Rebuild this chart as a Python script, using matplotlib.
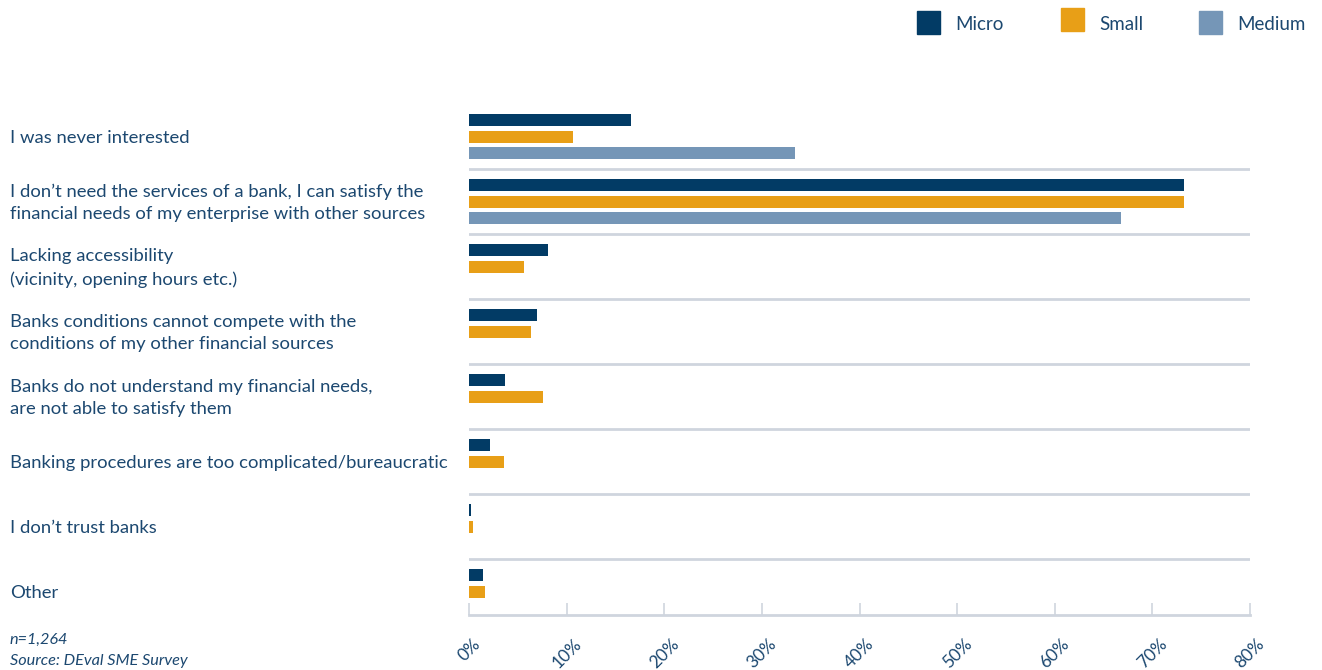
import numpy as np
import matplotlib.pyplot as plt
from matplotlib.patches import Rectangle
from matplotlib.transforms import blended_transform_factory

# --- Data (percent of respondents) ---
categories = [
    "I was never interested",
    "I don\u2019t need the services of a bank, I can satisfy the\nfinancial needs of my enterprise with other sources",
    "Lacking accessibility\n(vicinity, opening hours etc.)",
    "Banks conditions cannot compete with the\nconditions of my other financial sources",
    "Banks do not understand my financial needs,\nare not able to satisfy them",
    "Banking procedures are too complicated/bureaucratic",
    "I don\u2019t trust banks",
    "Other",
]
micro = [16.6, 73.2, 8.1, 7.0, 3.7, 2.2, 0.2, 1.4]
small = [10.7, 73.2, 5.6, 6.4, 7.6, 3.6, 0.4, 1.6]
medium = [33.4, 66.8, np.nan, np.nan, np.nan, np.nan, np.nan, np.nan]
series_names = ["Micro", "Small", "Medium"]
xticks = [0, 10, 20, 30, 40, 50, 60, 70, 80]
xtick_labels = ["0%", "10%", "20%", "30%", "40%", "50%", "60%", "70%", "80%"]
note = "n=1,264"
source = "Source: DEval SME Survey"

# --- Style ---
C_MICRO = "#023b65"
C_SMALL = "#e89f17"
C_MEDIUM = "#7596b7"
C_TEXT = "#1c4870"
C_GRID = "#cfd5de"
FONT = "Lato"

plt.rcParams["font.family"] = FONT

W, H = 1322, 670
fig = plt.figure(figsize=(W / 100, H / 100), dpi=100)
ax = fig.add_axes([469 / W, (H - 615) / H, (1250 - 469) / W, (615 - 104) / H])

n = len(categories)
y = np.arange(n)
bh = 12 / 65
ax.barh(y + 16 / 65, micro, height=bh, color=C_MICRO, zorder=3)
ax.barh(y + 33 / 65, small, height=bh, color=C_SMALL, zorder=3)
ax.barh(y + 49 / 65, medium, height=bh, color=C_MEDIUM, zorder=3)

ax.set_xlim(0, 80)
ax.set_ylim(n - 1 + 56 / 65, 0)

# separators between groups
for k in range(1, n):
    ax.axhline(k, color=C_GRID, lw=2, zorder=1)

for s in ["top", "right", "left"]:
    ax.spines[s].set_visible(False)
ax.spines["bottom"].set_color(C_GRID)
ax.spines["bottom"].set_linewidth(2)

ax.set_yticks([])
ax.set_xticks(xticks)
ax.set_xticklabels(xtick_labels, rotation=45, ha="center", va="top",
                   color=C_TEXT, fontsize=12.5)
ax.tick_params(axis="x", direction="in", length=9, width=1.2,
               color=C_GRID, pad=15)

# category labels at the left edge
trans = blended_transform_factory(fig.transFigure, ax.transData)
for i, lab in enumerate(categories):
    ax.text(10 / W, i + 0.5 + 1.5 / 65, lab, transform=trans, ha="left",
            va="center", fontsize=13.3, color=C_TEXT, linespacing=1.5)

# legend
leg_x = [917, 1061, 1199]
leg_y = [11, 8, 11]
for name, col, lx, ly in zip(series_names, [C_MICRO, C_SMALL, C_MEDIUM], leg_x, leg_y):
    fig.add_artist(Rectangle((lx / W, (H - ly - 23) / H), 23 / W, 23 / H,
                             transform=fig.transFigure, color=col))
    fig.text((lx + 38) / W, (H - 25) / H, name, ha="left", va="center",
             fontsize=13.5, color=C_TEXT)

# footnote
fig.text(10 / W, (H - 640) / H, note, ha="left", va="center",
         fontsize=11.7, style="italic", color=C_TEXT)
fig.text(10 / W, (H - 661) / H, source, ha="left", va="center",
         fontsize=11.7, style="italic", color=C_TEXT)

fig.savefig("out.png", dpi=100)
